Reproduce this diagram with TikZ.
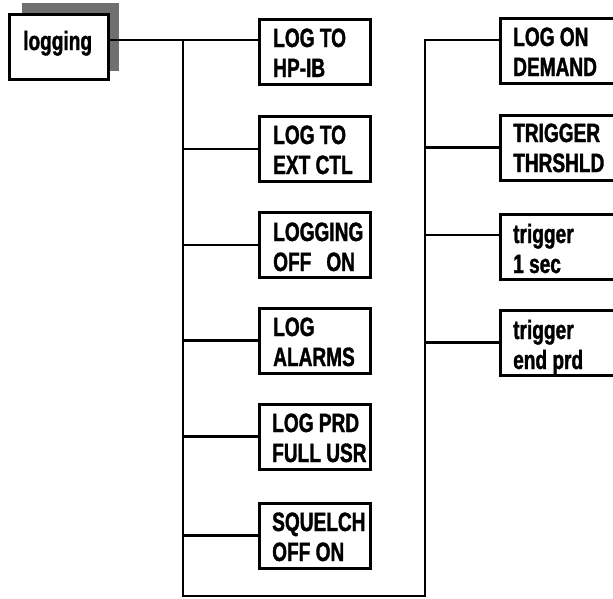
\documentclass[tikz,border=0pt]{standalone}
\usepackage{fontspec}
\newfontfamily\cond{Liberation Sans}[FakeStretch=0.72, BoldFeatures={FakeBold=1.3}]
\newcommand\twol[2]{\begin{tabular}[t]{@{}l@{}}#1\\#2\end{tabular}}
\definecolor{shadowgray}{gray}{0.44}
\begin{document}
\begin{tikzpicture}[x=1pt,y=-1pt,
  box/.style={draw, line width=3pt, fill=white, inner sep=0pt, minimum width=111pt, minimum height=65pt},
  rbox/.style={box, minimum width=130pt},
  lbl/.style={anchor=base west, inner sep=0pt, font=\cond\bfseries\fontsize{26.5}{30}\selectfont},
  conn/.style={line width=2.2pt, line join=miter}]
\useasboundingbox (0,0) rectangle (613,598);
\clip (0,0) rectangle (613,598);
% root
\fill[shadowgray] (22,3) rectangle (119,71);
\node[box, minimum width=99pt, minimum height=65pt] (logging) at (59,47) {};
\node[lbl] (tlogging) at (23,50) {logging};
% left column
\node[box] (b1) at (315,52) {};
\node[box] (b2) at (315,149) {};
\node[box] (b3) at (315,245) {};
\node[box] (b4) at (315,340.5) {};
\node[box] (b5) at (315,436.5) {};
\node[box] (b6) at (315,535.5) {};
\node[lbl] (t1) at (273,47) {\twol{LOG TO}{HP-IB}};
\node[lbl] (t2) at (273,144) {\twol{LOG TO}{EXT CTL}};
\node[lbl] (t3) at (273,241) {\twol{LOGGING}{OFF\hspace{15pt}ON}};
\node[lbl] (t4) at (273,336) {\twol{LOG}{ALARMS}};
\node[lbl] (t5) at (272,432) {\twol{LOG PRD}{FULL USR}};
\node[lbl] (t6) at (272,531) {\twol{SQUELCH}{OFF ON}};
% right column
\node[rbox] (r1) at (565.5,50.5) {};
\node[rbox] (r2) at (565.5,147.5) {};
\node[rbox] (r3) at (565.5,246.5) {};
\node[rbox] (r4) at (565.5,342.5) {};
\node[lbl] (u1) at (513,46) {\twol{LOG ON}{DEMAND}};
\node[lbl] (u2) at (513,142) {\twol{TRIGGER}{THRSHLD}};
\node[lbl] (u3) at (513,243) {\twol{trigger}{1 sec}};
\node[lbl] (u4) at (513,339) {\twol{trigger}{end prd}};
% connectors
\coordinate (lj) at ([yshift=7pt]logging.east);
\coordinate (ls) at (183,40);
\coordinate (lb) at (183,596);
\coordinate (rb) at (425,596);
\coordinate (rs) at (425,40);
\draw[conn] (lj) -- (lj -| b1.west);
\draw[conn] (ls) -- (lb) -- (rb) -- (rs) -- (rs -| r1.west);
\foreach \b in {b2,b3,b4,b5,b6} \draw[conn] (ls |- \b.west) -- (\b.west);
\draw[conn] (rs |- r2.west) -- (r2.west);
\draw[conn] (rs |- 0,235) -- (0,235 -| r3.west);
\draw[conn] (rs |- r4.west) -- (r4.west);
\end{tikzpicture}
\end{document}
